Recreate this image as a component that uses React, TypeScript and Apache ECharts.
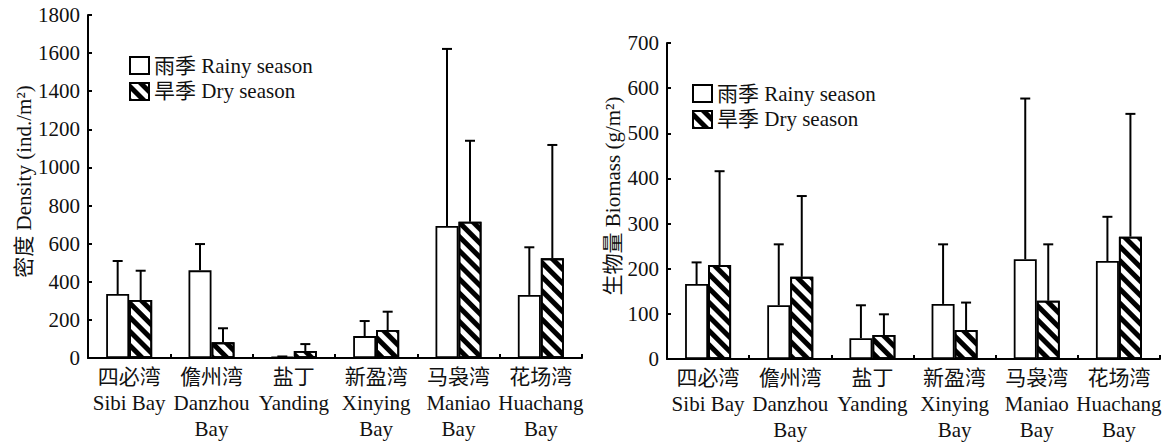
import React, { useEffect, useRef } from "react";
import * as echarts from "echarts";

const categories = [
  "四必湾\nSibi Bay",
  "儋州湾\nDanzhou\nBay",
  "盐丁\nYanding",
  "新盈湾\nXinying\nBay",
  "马袅湾\nManiao\nBay",
  "花场湾\nHuachang\nBay",
];
const rainyName = "雨季 Rainy season";
const dryName = "旱季 Dry season";

const densityRainy = [336, 460, 5, 115, 693, 331];
const densityRainySD = [173, 138, 3, 79, 929, 250];
const densityDry = [304, 82, 37, 147, 715, 523];
const densityDrySD = [154, 74, 36, 96, 425, 595];

const biomassRainy = [166, 119, 46, 122, 221, 217];
const biomassRainySD = [48, 135, 73, 132, 356, 98];
const biomassDry = [208, 182, 53, 64, 129, 271];
const biomassDrySD = [208, 179, 46, 61, 125, 272];

const FONT = "'Liberation Serif', 'Times New Roman', 'Noto Sans CJK SC', serif";
const BAR_W = 23;
const FS = 21;

const hatch = {
  symbol: "rect",
  symbolSize: 1,
  color: "#000",
  backgroundColor: "#fff",
  dashArrayX: [1, 0],
  dashArrayY: [5, 5],
  rotation: Math.PI / 4,
};

function errSeries(vals: number[], sd: number[], offset: number, gi: number) {
  return {
    type: "custom",
    xAxisIndex: gi,
    yAxisIndex: gi,
    z: 5,
    silent: true,
    data: vals.map((v, i) => [i, v, v + sd[i]]),
    encode: { x: 0, y: [1, 2] },
    renderItem: (params: any, api: any) => {
      const idx = api.value(0);
      const base = api.coord([idx, api.value(1)]);
      const top = api.coord([idx, api.value(2)]);
      const x = base[0] + offset;
      return {
        type: "group",
        children: [
          { type: "line", shape: { x1: x, y1: base[1], x2: x, y2: top[1] }, style: { stroke: "#000", lineWidth: 2 } },
          { type: "line", shape: { x1: x - 5, y1: top[1], x2: x + 5, y2: top[1] }, style: { stroke: "#000", lineWidth: 2 } },
        ],
      };
    },
  };
}

function barSeries(name: string, vals: number[], gi: number, dry: boolean) {
  return {
    type: "bar",
    name,
    xAxisIndex: gi,
    yAxisIndex: gi,
    barWidth: BAR_W,
    barGap: "0%",
    data: vals,
    itemStyle: dry
      ? { color: "#fff", borderColor: "#000", borderWidth: 1.8, decal: hatch }
      : { color: "#fff", borderColor: "#000", borderWidth: 1.8 },
  };
}

const axisLine = { show: true, lineStyle: { color: "#000", width: 2 } };

function xAxis(gi: number) {
  return {
    type: "category",
    gridIndex: gi,
    data: categories,
    axisLine,
    axisTick: { show: true, inside: true, length: 4, lineStyle: { color: "#000", width: 2 } },
    axisLabel: { interval: 0, color: "#111", fontSize: FS, fontFamily: FONT, lineHeight: 26, margin: 6 },
  };
}

function yAxis(gi: number, max: number, interval: number, name: string, gap: number) {
  return {
    type: "value",
    gridIndex: gi,
    min: 0,
    max,
    interval,
    name,
    nameLocation: "middle",
    nameGap: gap,
    nameTextStyle: { color: "#111", fontSize: FS, fontFamily: FONT, padding: [0, 0, 0, 10] },
    axisLine,
    axisTick: { show: true, inside: true, length: 4, lineStyle: { color: "#000", width: 2 } },
    splitLine: { show: false },
    axisLabel: {
      color: "#111",
      fontSize: FS,
      fontFamily: FONT,
      margin: 8,
      formatter: (v: number) => String(v),
    },
  };
}

function legend(left: number, top: number) {
  return {
    left,
    top,
    padding: 0,
    orient: "vertical",
    itemWidth: 19,
    itemHeight: 17,
    itemGap: 5,
    icon: "rect",
    textStyle: { color: "#111", fontSize: FS, fontFamily: FONT },
    data: [rainyName, dryName],
  };
}

export default function App() {
  const ref = useRef<HTMLDivElement>(null);
  useEffect(() => {
    if (!ref.current) return;
    const chart = echarts.init(ref.current, null, { renderer: "svg" });
    chart.setOption({
      animation: false,
      backgroundColor: "#fff",
      grid: [
        { left: 88, top: 15, width: 494, height: 343 },
        { left: 667, top: 43, width: 493, height: 317 },
      ],
      legend: [legend(129, 55), legend(692, 83)],
      xAxis: [xAxis(0), xAxis(1)],
      yAxis: [
        yAxis(0, 1800, 200, "密度 Density (ind./m²)", 45),
        yAxis(1, 700, 100, "生物量 Biomass (g/m²)", 42),
      ],
      series: [
        barSeries(rainyName, densityRainy, 0, false),
        barSeries(dryName, densityDry, 0, true),
        barSeries(rainyName, biomassRainy, 1, false),
        barSeries(dryName, biomassDry, 1, true),
        errSeries(densityRainy, densityRainySD, -BAR_W / 2, 0),
        errSeries(densityDry, densityDrySD, BAR_W / 2, 0),
        errSeries(biomassRainy, biomassRainySD, -BAR_W / 2, 1),
        errSeries(biomassDry, biomassDrySD, BAR_W / 2, 1),
      ],
    });
    return () => chart.dispose();
  }, []);
  return (
    <div
      ref={ref}
      style={{ position: "absolute", left: 0, top: 0, width: 1168, height: 443, background: "#fff" }}
    />
  );
}
